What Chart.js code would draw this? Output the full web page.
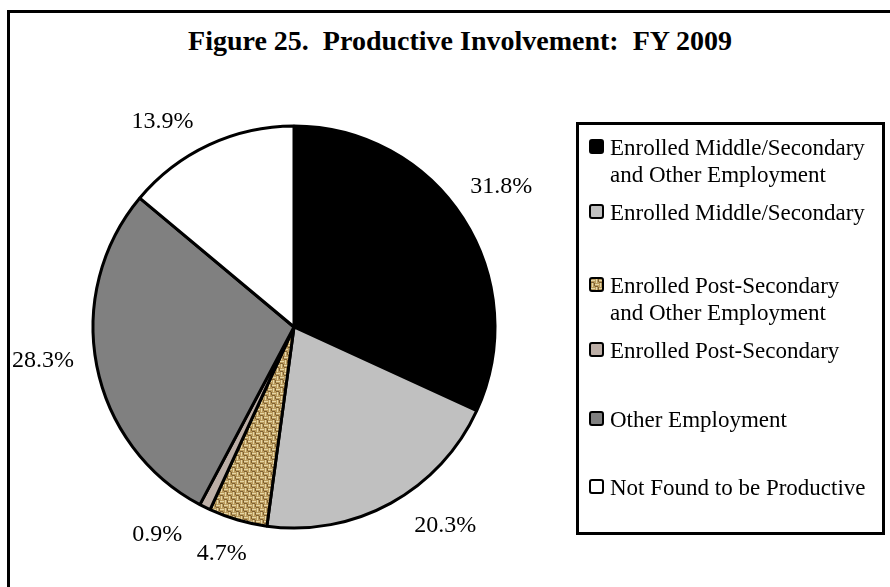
<!DOCTYPE html>
<html>
<head>
<meta charset="utf-8">
<script src="https://cdn.jsdelivr.net/npm/chart.js@4.4.0/dist/chart.umd.min.js"></script>
<style>
  html, body { margin: 0; padding: 0; background: #fff; }
  body { width: 890px; height: 587px; position: relative; overflow: hidden; font-family: "Liberation Serif", "Times New Roman", serif; }
  #frame { position: absolute; left: 7px; top: 10px; width: 900px; height: 600px; border: 3px solid #000; box-sizing: border-box; }
  #title { position: absolute; left: 110px; top: 27px; width: 700px; text-align: center; font-weight: bold; font-size: 28px; line-height: 28px; white-space: nowrap; }
  #legend { position: absolute; left: 576px; top: 122px; width: 309px; height: 413px; border: 3px solid #000; box-sizing: border-box; }
  .item { position: absolute; left: 0; }
  .swatch { position: absolute; left: 10px; width: 15px; height: 15px; border: 2px solid #000; border-radius: 3px; box-sizing: border-box; }
  .txt { position: absolute; left: 31px; width: 264px; font-size: 23px; line-height: 27px; }
  canvas { position: absolute; left: 0; top: 0; }
</style>
</head>
<body>
<div id="frame"></div>
<div id="title">Figure 25.&nbsp; Productive Involvement:&nbsp; FY 2009</div>
<canvas id="pie" width="890" height="587"></canvas>
<div id="legend"></div>
<script>
const categories = [
  "Enrolled Middle/Secondary and Other Employment",
  "Enrolled Middle/Secondary",
  "Enrolled Post-Secondary and Other Employment",
  "Enrolled Post-Secondary",
  "Other Employment",
  "Not Found to be Productive"
];
const percents = [31.8, 20.3, 4.7, 0.9, 28.3, 13.9];

// label nudges (clock degrees, px outward) so labels sit like the original
const labelShift = [-4.3, -6.2, 0.5, 5.5, 3.1, -5];
const labelPush = [2, 6, 0, 8, -4, 5];
// legend row tops inside the legend box
const legendRowTop = [9, 74, 147, 212, 281, 349];

function burlap() {
  const c = document.createElement("canvas");
  c.width = 8; c.height = 8;
  const g = c.getContext("2d");
  g.fillStyle = "#bb9c5e"; g.fillRect(0, 0, 8, 8);
  g.fillStyle = "#e6d6a6";
  g.fillRect(0, 1, 4, 1); g.fillRect(4, 5, 4, 1);
  g.fillRect(5, 0, 1, 4); g.fillRect(1, 4, 1, 4);
  g.fillStyle = "#7e6032";
  g.fillRect(0, 3, 3, 1); g.fillRect(4, 7, 3, 1);
  g.fillRect(7, 0, 1, 3); g.fillRect(3, 4, 1, 3);
  return c;
}
const tex = burlap();
const ctx0 = document.getElementById("pie").getContext("2d");
const burlapPattern = ctx0.createPattern(tex, "repeat");

const fills = ["#000000", "#c0c0c0", burlapPattern, "#bcaea6", "#808080", "#ffffff"];
const swatchCss = ["#000000", "#c0c0c0", "url(" + tex.toDataURL() + ")", "#bcaea6", "#808080", "#ffffff"];

const labelPlugin = {
  id: "pctLabels",
  afterDatasetsDraw(chart) {
    const ctx = chart.ctx;
    const meta = chart.getDatasetMeta(0);
    ctx.save();
    ctx.font = "24px 'Liberation Serif', 'Times New Roman', serif";
    ctx.fillStyle = "#000";
    ctx.textAlign = "center";
    ctx.textBaseline = "alphabetic";
    meta.data.forEach((arc, i) => {
      const p = arc.getProps(["x", "y", "startAngle", "endAngle", "outerRadius"], true);
      const a = (p.startAngle + p.endAngle) / 2 + labelShift[i] * Math.PI / 180;
      const ux = Math.cos(a), uy = Math.sin(a);
      const text = percents[i].toFixed(1) + "%";
      const w = ctx.measureText(text).width;
      const h = 16;
      const r = p.outerRadius + 1.5 + 24 + labelPush[i];
      const cx = p.x + ux * r + ux * w / 2;
      const cy = p.y + uy * r + uy * h / 2;
      ctx.fillText(text, cx, cy + 8);
    });
    ctx.restore();
  }
};

const chart = new Chart(ctx0, {
  type: "pie",
  data: {
    labels: categories,
    datasets: [{
      data: percents,
      backgroundColor: fills,
      borderColor: "#000",
      borderWidth: 3,
      borderAlign: "center"
    }]
  },
  options: {
    responsive: false,
    animation: false,
    radius: 201,
    layout: { padding: { left: 80, right: 382, top: 120, bottom: 53 } },
    plugins: {
      legend: { display: false },
      title: { display: false },
      tooltip: { enabled: false }
    }
  },
  plugins: [labelPlugin]
});

const legendEl = document.getElementById("legend");
chart.data.labels.forEach((lab, i) => {
  const row = document.createElement("div");
  row.className = "item";
  row.style.top = legendRowTop[i] + "px";
  const sw = document.createElement("div");
  sw.className = "swatch";
  sw.style.top = "5px";
  sw.style.background = swatchCss[i];
  const t = document.createElement("div");
  t.className = "txt";
  t.textContent = lab;
  row.appendChild(sw);
  row.appendChild(t);
  legendEl.appendChild(row);
});
</script>
</body>
</html>
